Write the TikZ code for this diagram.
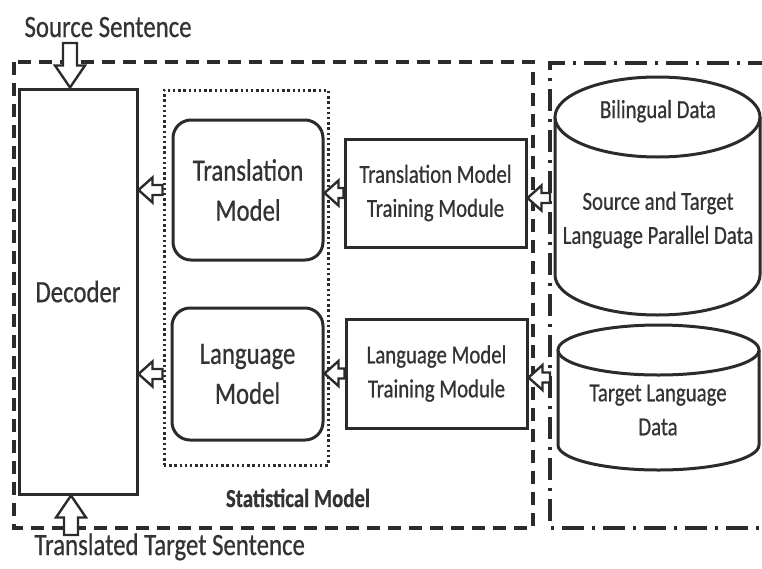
\documentclass[tikz,border=0pt]{standalone}
\usepackage{fontspec}
\setmainfont{Carlito}[FakeStretch=0.8, FakeBold=0.6]
\usetikzlibrary{calc}
\definecolor{ink}{HTML}{2B2B2B}
\definecolor{txt}{HTML}{333333}
\newcommand\fbig{\fontsize{31}{40}\selectfont}
\newcommand\fsmall{\fontsize{26}{34}\selectfont}

\tikzset{
  line/.style={draw=ink, line width=3pt},
  plainbox/.style={line, fill=white, text=txt, align=center},
  roundbox/.style={plainbox, rounded corners=18pt},
  % hollow block arrow from start to target: #1 shaft half-width, #2 head half-width, #3 head length
  blockarrow/.style n args={3}{draw=ink, line width=2.4pt, fill=white, line join=miter,
    to path={
      ($(\tikztostart)!#1!90:(\tikztotarget)$)
      -- ($($(\tikztotarget)!#3!(\tikztostart)$)!#1!-90:(\tikztostart)$)
      -- ($($(\tikztotarget)!#3!(\tikztostart)$)!#2!-90:(\tikztostart)$)
      -- (\tikztotarget)
      -- ($($(\tikztotarget)!#3!(\tikztostart)$)!#2!90:(\tikztostart)$)
      -- ($($(\tikztotarget)!#3!(\tikztostart)$)!#1!90:(\tikztostart)$)
      -- ($(\tikztostart)!#1!-90:(\tikztotarget)$)
      -- cycle}},
  vblock/.style={blockarrow={7pt}{15pt}{22pt}},
  hblock/.style={blockarrow={5pt}{12.5pt}{14pt}},
}

\begin{document}
\begin{tikzpicture}[x=1pt, y=1pt]
\useasboundingbox (0,0) rectangle (762,-568);

% statistical model frame (dashed) and data frame (dash-dot, open to the right)
\draw[line, line width=3.2pt, dash pattern=on 13pt off 8pt] (14,-62) rectangle (533,-528);
\draw[line, line width=3.2pt, dash pattern=on 22pt off 8pt on 3pt off 8pt]
  (770,-63) -- (550,-63) -- (550,-528) -- (770,-528);
\coordinate (ddleft) at (550,-300);

% decoder
\node[plainbox, minimum width=118pt, minimum height=405pt, font=\fbig] (decoder) at (78,-291.5) {Decoder};

% dotted group around the two models
\node[draw=ink, line width=3pt, dash pattern=on 2.4pt off 2.8pt,
      minimum width=164pt, minimum height=375pt] (dotted) at (246,-277.5) {};

% models
\node[roundbox, minimum width=150pt, minimum height=140pt, font=\fbig] (tm) at (248,-190) {Translation\\Model};
\node[roundbox, minimum width=151pt, minimum height=132pt, font=\fbig] (lm) at (247.5,-374) {Language\\Model};

% training modules
\node[plainbox, minimum width=181pt, minimum height=108pt, font=\fsmall] (tmt) at (435.5,-193) {Translation Model\\Training Module};
\node[plainbox, minimum width=181pt, minimum height=109pt, font=\fsmall] (lmt) at (436.5,-373.5) {Language Model\\Training Module};

% bilingual data cylinder
\draw[line, fill=white] (555,-117) -- (555,-275)
  arc[start angle=180, end angle=360, x radius=102.5pt, y radius=40pt] -- (760,-117);
\draw[line, fill=white] (657.5,-117) ellipse[x radius=102.5pt, y radius=40pt];
\node[font=\fsmall, text=txt, anchor=base] (biltitle) at (658,-118) {Bilingual Data};
\node[font=\fsmall, text=txt, align=center] (bilbody) at (658,-220) {Source and Target\\Language Parallel Data};

% target language data cylinder
\draw[line, fill=white] (558,-350) -- (558,-445)
  arc[start angle=180, end angle=360, x radius=100.5pt, y radius=25pt] -- (759,-350);
\draw[line, fill=white] (658.5,-350) ellipse[x radius=100.5pt, y radius=25pt];
\node[font=\fsmall, text=txt, align=center] (tgtbody) at (658,-410) {Target Language\\Data};

% hollow arrows
\coordinate (srcin) at (70,-43);
\coordinate (srcout) at (71,-535);
\draw[vblock] (srcin) to (srcin |- decoder.north);
\draw[vblock] (srcout) to (srcout |- decoder.south);
\draw[hblock] (dotted.west |- tm.center) to (decoder.east |- tm.center);
\draw[hblock] (dotted.west |- lm.center) to (decoder.east |- lm.center);
\draw[hblock] (tmt.west) to (tm.east |- tmt.west);
\draw[hblock] (lmt.west) to (lm.east |- lmt.west);
\draw[hblock] ($(ddleft |- tmt.east)+(0,-5)$) to ($(tmt.east)+(0,-5)$);
\draw[hblock] ($(ddleft |- lmt.east)+(0,-4)$) to ($(lmt.east)+(0,-4)$);

% labels
\node[anchor=base west, font=\fbig, text=txt] (srclabel) at (21,-37) {Source Sentence};
\node[anchor=base west, font=\fbig, text=txt] (outlabel) at (31,-555) {Translated Target Sentence};
\node[anchor=base, font=\fsmall\bfseries, text=txt] (statlabel) at (298,-507) {Statistical Model};
\end{tikzpicture}
\end{document}
